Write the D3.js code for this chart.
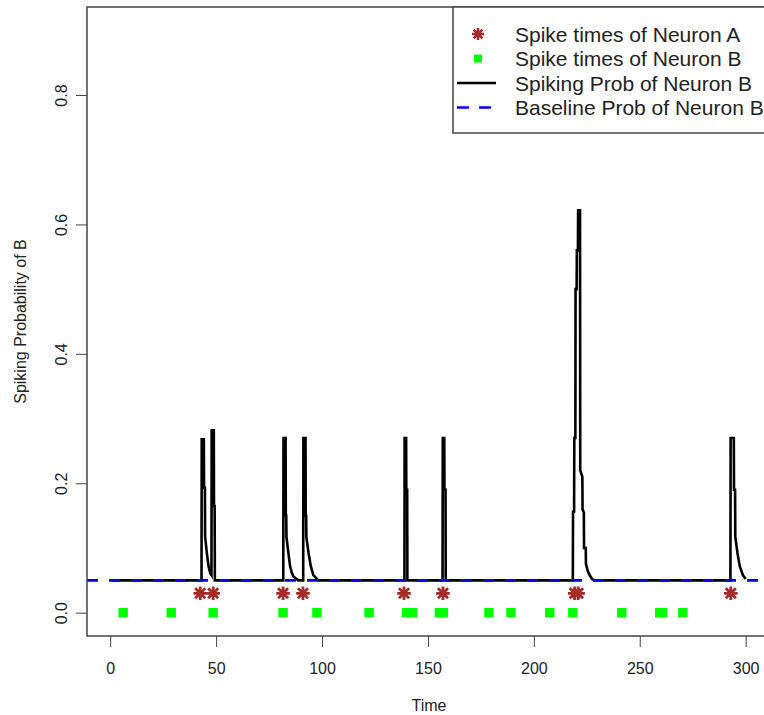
<!DOCTYPE html>
<html>
<head>
<meta charset="utf-8">
<script src="https://cdn.jsdelivr.net/npm/d3@7"></script>
<style>
  body { margin: 0; background: #fff; }
  svg { display: block; font-family: "Liberation Sans", Arial, sans-serif; }
</style>
</head>
<body>
<svg width="764" height="715"></svg>
<script>
// spike times
var spikesA = [42.5, 48.6, 81.6, 91.0, 138.7, 157.1, 219.3, 220.9, 293.0];
var spikesB = [6.1, 28.8, 48.6, 81.6, 97.6, 122.2, 139.9, 142.7, 155.4, 157.3,
  178.8, 189.2, 207.5, 218.4, 241.5, 259.4, 260.8, 270.3];

var baselineProb = 0.05;
var markA = 0.03, markB = 0;

// [time, probability] vertices of the black curve
var probCurve = [
  [1, 0.05], [43.1, 0.05],
  [43.2, 0.268], [44.2, 0.268], [44.3, 0.193], [44.7, 0.193], [44.8, 0.118],
  [45.6, 0.093], [46.4, 0.072], [47.2, 0.061], [47.8, 0.058],
  [47.9, 0.282], [48.9, 0.282], [49.0, 0.165], [49.3, 0.165], [49.4, 0.05],
  [81.7, 0.05],
  [81.8, 0.27], [82.8, 0.27], [82.9, 0.15], [83.1, 0.15], [83.2, 0.117],
  [84.1, 0.093], [84.9, 0.072], [85.7, 0.062], [86.5, 0.056], [88.8, 0.05],
  [91.1, 0.05],
  [91.2, 0.27], [92.2, 0.27], [92.3, 0.15], [92.5, 0.15], [92.6, 0.117],
  [93.6, 0.093], [94.7, 0.072], [95.9, 0.058], [98.3, 0.05],
  [138.9, 0.05],
  [139.0, 0.27], [139.7, 0.27], [139.8, 0.19], [140.2, 0.19], [140.3, 0.05],
  [156.9, 0.05],
  [157.0, 0.27], [157.7, 0.27], [157.8, 0.19], [158.3, 0.19], [158.4, 0.05],
  [218.4, 0.05],
  [218.5, 0.156], [219.0, 0.156], [219.1, 0.27], [219.6, 0.27], [219.7, 0.50],
  [220.2, 0.50], [220.3, 0.56], [220.8, 0.56], [220.9, 0.622], [221.8, 0.622],
  [221.9, 0.22], [222.9, 0.21], [223.0, 0.16], [223.6, 0.155], [223.7, 0.10],
  [224.5, 0.10], [224.6, 0.075], [225.5, 0.064], [226.5, 0.057], [227.5, 0.052],
  [228.8, 0.05],
  [292.8, 0.05],
  [292.9, 0.27], [294.4, 0.27], [294.5, 0.19], [295.0, 0.19], [295.1, 0.117],
  [296.1, 0.093], [297.2, 0.072], [298.7, 0.058], [300, 0.052]
];

var xTicks = [0, 50, 100, 150, 200, 250, 300];
var yTicks = [0, 0.2, 0.4, 0.6, 0.8];

var legendItems = ["Spike times of Neuron A", "Spike times of Neuron B",
  "Spiking Prob of Neuron B", "Baseline Prob of Neuron B"];

var svg = d3.select("svg");
var plotL = 87, plotR = 771, plotT = 7, plotB = 636;

var x = d3.scaleLinear().domain([-10.96, 311.96]).range([plotL, plotR]);
var y = d3.scaleLinear().domain([-0.036, 0.936]).range([plotB, plotT]);

function starPath(cx, cy, r) {
  var d = r * 0.74;
  return "M" + (cx - r) + "," + cy + "L" + (cx + r) + "," + cy +
    "M" + cx + "," + (cy - r) + "L" + cx + "," + (cy + r) +
    "M" + (cx - d) + "," + (cy - d) + "L" + (cx + d) + "," + (cy + d) +
    "M" + (cx - d) + "," + (cy + d) + "L" + (cx + d) + "," + (cy - d);
}

var plot = svg.append("g");

plot.append("path")
    .datum(probCurve)
    .attr("fill", "none")
    .attr("stroke", "#000")
    .attr("stroke-width", 2.6)
    .attr("stroke-linejoin", "miter")
    .attr("d", d3.line().x(function(d) { return x(d[0]); }).y(function(d) { return y(d[1]); }));

plot.append("line")
    .attr("x1", plotL).attr("x2", plotR)
    .attr("y1", y(baselineProb)).attr("y2", y(baselineProb))
    .attr("stroke", "#0000ff")
    .attr("stroke-width", 2.6)
    .attr("stroke-dasharray", "11,11");

plot.selectAll("path.spikeA")
    .data(spikesA)
    .enter().append("path")
      .attr("class", "spikeA")
      .attr("d", function(d) { return starPath(x(d), y(markA), 6.8); })
      .attr("stroke", "#a52a2a")
      .attr("stroke-width", 2.8);

plot.selectAll("rect.spikeB")
    .data(spikesB)
    .enter().append("rect")
      .attr("class", "spikeB")
      .attr("x", function(d) { return x(d) - 4.7; })
      .attr("y", y(markB) - 4.7)
      .attr("width", 9.4)
      .attr("height", 9.4)
      .attr("fill", "#00ff00");

// box
svg.append("rect")
    .attr("x", plotL).attr("y", plotT)
    .attr("width", plotR - plotL).attr("height", plotB - plotT)
    .attr("fill", "none")
    .attr("stroke", "#444")
    .attr("stroke-width", 1.5);

var xAxis = svg.append("g")
    .attr("transform", "translate(0," + plotB + ")")
    .call(d3.axisBottom(x).tickValues(xTicks).tickSize(11).tickFormat(d3.format("d")));
xAxis.select(".domain").remove();
xAxis.selectAll("line").attr("stroke", "#444");
xAxis.selectAll("text")
    .attr("y", 38).attr("dy", null)
    .attr("fill", "#222")
    .style("font-size", "16px")
    .style("font-family", "'Liberation Sans', Arial, sans-serif");

var yAxis = svg.append("g")
    .attr("transform", "translate(" + plotL + ",0)")
    .call(d3.axisLeft(y).tickValues(yTicks).tickSize(11).tickFormat(d3.format(".1f")));
yAxis.select(".domain").remove();
yAxis.selectAll("line").attr("stroke", "#444");
yAxis.selectAll("text")
    .attr("x", null).attr("dy", null)
    .attr("transform", "translate(-20,0) rotate(-90)")
    .attr("text-anchor", "middle")
    .attr("fill", "#222")
    .style("font-size", "16px")
    .style("font-family", "'Liberation Sans', Arial, sans-serif");

svg.append("text")
    .attr("x", (plotL + plotR) / 2)
    .attr("y", 711)
    .attr("text-anchor", "middle")
    .attr("fill", "#222")
    .style("font-size", "16px")
    .text("Time");

svg.append("text")
    .attr("transform", "translate(26," + ((plotT + plotB) / 2) + ") rotate(-90)")
    .attr("text-anchor", "middle")
    .attr("fill", "#222")
    .style("font-size", "16px")
    .text("Spiking Probability of B");

// legend
var legend = svg.append("g");
legend.append("rect")
    .attr("x", 453).attr("y", plotT)
    .attr("width", plotR - 453).attr("height", 126)
    .attr("fill", "#fff")
    .attr("stroke", "#444")
    .attr("stroke-width", 1.5);

var rowY = function(i) { return 34 + i * 24.5; };

legend.append("path")
    .attr("d", starPath(478, rowY(0), 6))
    .attr("stroke", "#a52a2a")
    .attr("stroke-width", 2.6);
legend.append("rect")
    .attr("x", 474).attr("y", rowY(1) - 4)
    .attr("width", 8).attr("height", 8)
    .attr("fill", "#00ff00");
legend.append("line")
    .attr("x1", 457).attr("x2", 496)
    .attr("y1", rowY(2)).attr("y2", rowY(2))
    .attr("stroke", "#000").attr("stroke-width", 2.6);
legend.append("line")
    .attr("x1", 457).attr("x2", 496)
    .attr("y1", rowY(3)).attr("y2", rowY(3))
    .attr("stroke", "#0000ff").attr("stroke-width", 2.6)
    .attr("stroke-dasharray", "12,10");

legend.selectAll("text")
    .data(legendItems)
    .enter().append("text")
      .attr("x", 515)
      .attr("y", function(d, i) { return rowY(i) + 7.5; })
      .attr("fill", "#222")
      .style("font-size", "21px")
      .text(function(d) { return d; });
</script>
</body>
</html>
